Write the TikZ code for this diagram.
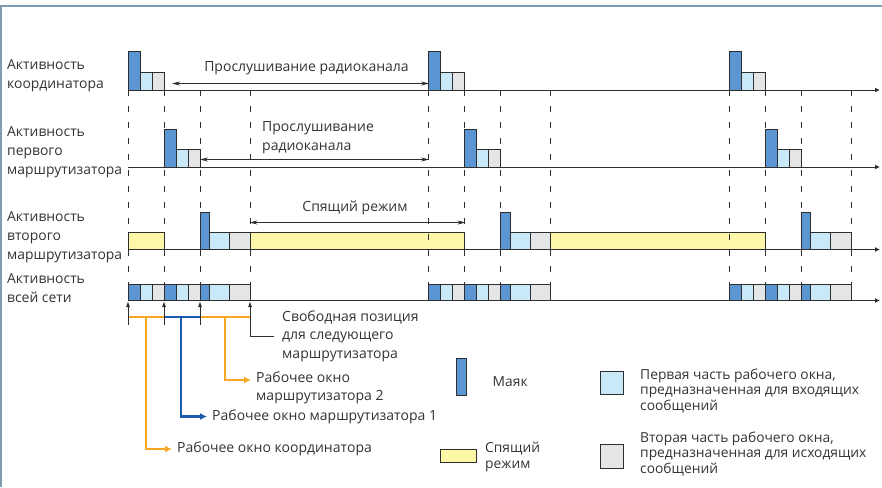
\documentclass[tikz,border=0pt]{standalone}
\usepackage{fontspec}
\setmainfont{Open Sans}
\usetikzlibrary{arrows.meta, calc}

\definecolor{beaconblue}{HTML}{5B96D2}
\definecolor{inblue}{HTML}{C9E9F8}
\definecolor{outgrey}{HTML}{E4E5E7}
\definecolor{sleepyellow}{HTML}{FFF7A8}
\definecolor{winorange}{HTML}{F7A823}
\definecolor{windarkblue}{HTML}{1A5CAB}
\definecolor{framegrey}{HTML}{7E9DB1}
\definecolor{linegrey}{HTML}{2E2E2E}
\definecolor{textgrey}{HTML}{333333}

\begin{document}
\begin{tikzpicture}[x=1pt, y=-1pt]
    \tikzstyle{beacon} = [draw=linegrey, fill=beaconblue, line width=1pt]
    \tikzstyle{inslot} = [draw=linegrey, fill=inblue, line width=1pt]
    \tikzstyle{outslot} = [draw=linegrey, fill=outgrey, line width=1pt]
    \tikzstyle{sleep} = [draw=linegrey, fill=sleepyellow, line width=1pt]
    \tikzstyle{axis} = [draw=linegrey, line width=1pt, -{Latex[length=5pt, width=5pt]}]
    \tikzstyle{slotline} = [draw=linegrey, line width=1pt, dash pattern=on 6pt off 10pt]
    \tikzstyle{spanarrow} = [draw=linegrey, line width=0.8pt, {Stealth[length=8pt, width=4pt]}-{Stealth[length=8pt, width=4pt]}]
    \tikzstyle{marker} = [draw=linegrey, line width=1pt, -{Latex[length=6pt, width=4pt]}]
    \tikzstyle{winbar} = [line width=2.5pt]
    \tikzstyle{winarrow} = [line width=2.5pt, -{Latex[length=7pt, width=7pt]}]
    \tikzstyle{rowtext} = [anchor=west, align=left, inner sep=0pt, text=textgrey, font=\fontsize{13.9}{19}\selectfont]
    \tikzstyle{note} = [inner sep=0pt, text=textgrey, font=\fontsize{14}{18.5}\selectfont]
    \tikzstyle{keytext} = [anchor=west, align=left, inner sep=0pt, text=textgrey, font=\fontsize{13.8}{15.5}\selectfont]

    \useasboundingbox (0,0) rectangle (882,487);
    \draw[framegrey, line width=1.5pt] (0.75,487) -- (0.75,6);
    \draw[framegrey, line width=2.2pt] (0,6) -- (882,6);

    \node[rowtext] (coord) at (7,76) {Активность\\координатора};
    \node[rowtext] (router1) at (7,152) {Активность\\первого\\маршрутизатора};
    \node[rowtext] (router2) at (7,237.5) {Активность\\второго\\маршрутизатора};
    \node[rowtext] (network) at (7,288) {Активность\\всей сети};

    \draw[axis] (128,90) -- (880,90);
    \draw[axis] (128,167) -- (880,167);
    \draw[axis] (128,249.5) -- (880,249.5);
    \draw[axis] (128,300.5) -- (880,300.5);

    \draw[sleep] (128,232.5) rectangle (164,249.5);
    \draw[sleep] (250,232.5) rectangle (464.5,249.5);
    \draw[sleep] (550.5,232.5) rectangle (765,249.5);

    \foreach \s in {128,428.5,729} {
        \draw[beacon] (\s,52) rectangle (\s+12,90);
        \draw[inslot] (\s+12,72.5) rectangle (\s+24,90);
        \draw[outslot] (\s+24,72.5) rectangle (\s+36,90);
        \draw[beacon] (\s+36,129) rectangle (\s+48,167);
        \draw[inslot] (\s+48,149) rectangle (\s+60,167);
        \draw[outslot] (\s+60,149) rectangle (\s+72,167);
        \draw[beacon] (\s+72,212) rectangle (\s+81.5,249.5);
        \draw[inslot] (\s+81.5,232.5) rectangle (\s+101.5,249.5);
        \draw[outslot] (\s+101.5,232.5) rectangle (\s+122,249.5);
        \draw[beacon] (\s,284) rectangle (\s+12,300.5);
        \draw[inslot] (\s+12,284) rectangle (\s+24,300.5);
        \draw[outslot] (\s+24,284) rectangle (\s+36,300.5);
        \draw[beacon] (\s+36,284) rectangle (\s+48,300.5);
        \draw[inslot] (\s+48,284) rectangle (\s+60,300.5);
        \draw[outslot] (\s+60,284) rectangle (\s+72,300.5);
        \draw[beacon] (\s+72,284) rectangle (\s+81.5,300.5);
        \draw[inslot] (\s+81.5,284) rectangle (\s+101.5,300.5);
        \draw[outslot] (\s+101.5,284) rectangle (\s+122,300.5);
        \foreach \d in {0,36,72,122}
            \draw[slotline] (\s+\d,90) -- (\s+\d,284);
    }

    \node[note] (listen1) at (306.5,68) {Прослушивание радиоканала};
    \coordinate (listen1a) at (172,83.5);
    \coordinate (listen1b) at (429,83.5);
    \draw[spanarrow] (listen1a) -- (listen1b);

    \node[note, anchor=west, align=left] (listen2) at (262,137.5) {Прослушивание\\радиоканала};
    \coordinate (listen2a) at (200,159.5);
    \coordinate (listen2b) at (429,159.5);
    \draw[spanarrow] (listen2a) -- (listen2b);

    \node[note] (sleeptext) at (355,208) {Спящий режим};
    \coordinate (sleepa) at (249.5,222.5);
    \coordinate (sleepb) at (465.5,222.5);
    \draw[spanarrow] (sleepa) -- (sleepb);

    \coordinate (m0) at (128,301);
    \coordinate (m1) at (164,301);
    \coordinate (m2) at (200,301);
    \coordinate (m3) at (250,301);
    \draw[winbar, winorange] (128,317) -- (164,317);
    \draw[winbar, windarkblue] (164,317) -- (200,317);
    \draw[winbar, winorange] (200,317) -- (250,317);
    \draw[marker] (128,325) -- (m0);
    \draw[marker] (164,325) -- (m1);
    \draw[marker] (200,325) -- (m2);

    \node[note, anchor=west] (wincoord) at (177,449) {Рабочее окно координатора};
    \node[note, anchor=west] (winr1) at (212,416.5) {Рабочее окно маршрутизатора 1};
    \node[note, anchor=west, align=left] (winr2) at (256,388) {Рабочее окно\\маршрутизатора 2};
    \node[note, anchor=west, align=left] (freepos) at (282,336) {Свободная позиция\\для следующего\\маршрутизатора};

    \draw[winarrow, winorange] (146,317) |- ([xshift=-5pt]wincoord.west);
    \draw[winarrow, windarkblue] (181,317) |- ([xshift=-5pt]winr1.west);
    \draw[winarrow, winorange] (225,317) |- ([xshift=-5pt, yshift=8pt]winr2.west);
    \draw[marker] ([xshift=-8pt]freepos.west) -| (m3);

    \draw[beacon] (456,358.5) rectangle (466,395);
    \node[keytext] (keybeacon) at (492.5,382) {Маяк};
    \draw[sleep] (440,449.5) rectangle (476.5,462.5);
    \node[keytext] (keysleep) at (485,457) {Спящий\\режим};
    \draw[inslot] (600,371) rectangle (623.5,394);
    \node[keytext] (keyin) at (640,390.5) {Первая часть рабочего окна,\\предназначенная для входящих\\сообщений};
    \draw[outslot] (600,444) rectangle (623.5,468);
    \node[keytext] (keyout) at (640,453.5) {Вторая часть рабочего окна,\\предназначенная для исходящих\\сообщений};
\end{tikzpicture}
\end{document}
